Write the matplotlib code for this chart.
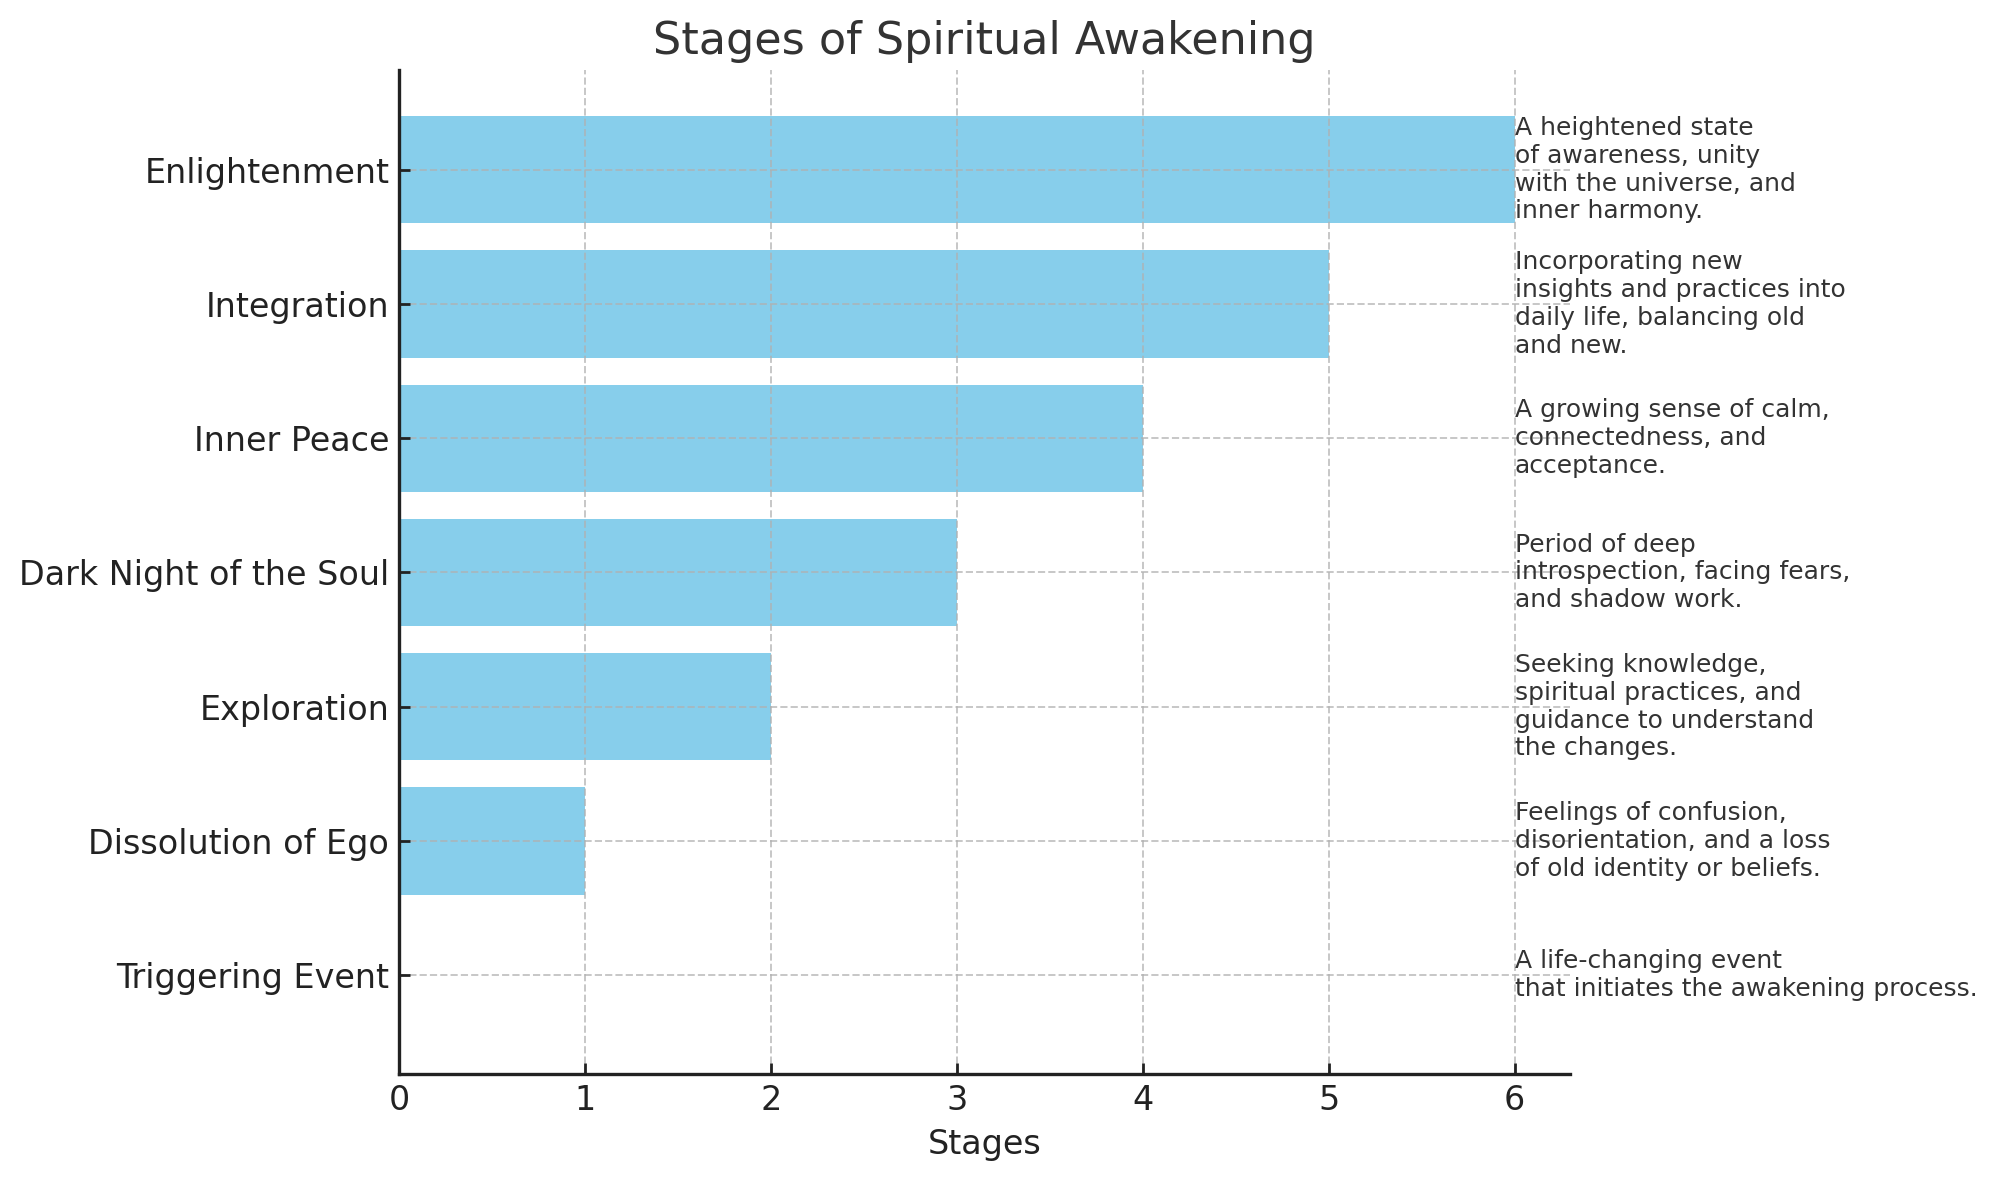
import matplotlib
matplotlib.use("Agg")
import matplotlib.pyplot as plt

# ----- Data -----
stages = [
    "Triggering Event",
    "Dissolution of Ego",
    "Exploration",
    "Dark Night of the Soul",
    "Inner Peace",
    "Integration",
    "Enlightenment",
]
levels = [0, 1, 2, 3, 4, 5, 6]
descriptions = [
    "A life-changing event\nthat initiates the awakening process.",
    "Feelings of confusion,\ndisorientation, and a loss\nof old identity or beliefs.",
    "Seeking knowledge,\nspiritual practices, and\nguidance to understand\nthe changes.",
    "Period of deep\nintrospection, facing fears,\nand shadow work.",
    "A growing sense of calm,\nconnectedness, and\nacceptance.",
    "Incorporating new\ninsights and practices into\ndaily life, balancing old\nand new.",
    "A heightened state\nof awareness, unity\nwith the universe, and\ninner harmony.",
]

BAR_COLOR = "skyblue"
TEXT_DARK = "#333333"

fig = plt.figure(figsize=(9.99, 5.9), dpi=200)
ax = fig.add_axes([0.1997, 0.0895, 0.5863, 0.8508])

ax.barh(stages, levels, color=BAR_COLOR, height=0.8)

# descriptions to the right of the longest bar
x_text = max(levels)
for i, desc in enumerate(descriptions):
    ax.text(x_text, i, desc, ha="left", va="center", fontsize=9,
            color=TEXT_DARK)

ax.set_title("Stages of Spiritual Awakening", fontsize=16, color=TEXT_DARK)
ax.set_xlabel("Stages", fontsize=12, color="#222222")
ax.tick_params(axis="both", direction="in", labelsize=12,
               colors="#222222", length=4, width=1)

for side in ("top", "right"):
    ax.spines[side].set_visible(False)
for side in ("left", "bottom"):
    ax.spines[side].set_color("#222222")
    ax.spines[side].set_linewidth(1.2)

ax.grid(True, linestyle="--", color="#b0b0b0", alpha=0.7, linewidth=0.7)

fig.savefig("out.png", dpi=200)
